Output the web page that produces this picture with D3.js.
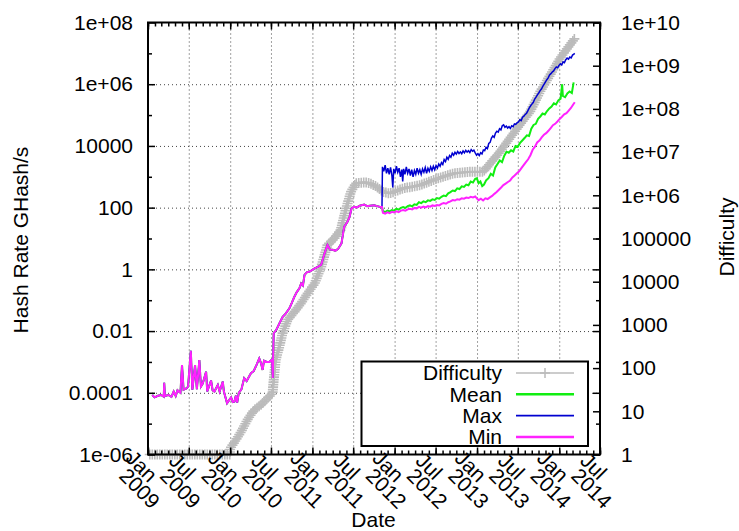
<!DOCTYPE html>
<html>
<head>
<meta charset="utf-8">
<script src="https://cdnjs.cloudflare.com/ajax/libs/d3/7.8.5/d3.min.js"></script>
<style>
body { margin: 0; background: #fff; }
text { font-family: "Liberation Sans", Arial, sans-serif; font-size: 21px; fill: #000; }
</style>
</head>
<body>
<div id="chart"></div>
<script>
// hash rate before Nov 2011 (mean, max and min lie on top of each other)
let earlyRate = [
  ["2009-01-20", 8.5e-5], ["2009-01-30", 7.1e-5], ["2009-02-14", 8.0e-5], ["2009-02-28", 8.5e-5],
  ["2009-03-12", 7.5e-5], ["2009-03-14", 2.1e-4], ["2009-03-17", 7.9e-5], ["2009-04-02", 8.5e-5],
  ["2009-04-15", 7.4e-5], ["2009-04-25", 1.1e-4], ["2009-05-04", 7.9e-5], ["2009-05-12", 1.2e-4],
  ["2009-05-25", 1.0e-4], ["2009-06-01", 7.9e-4], ["2009-06-08", 1.26e-4], ["2009-06-22", 1.4e-4],
  ["2009-06-28", 1.6e-4], ["2009-07-10", 2.3e-3], ["2009-07-17", 1.26e-4], ["2009-07-29", 7.9e-4],
  ["2009-08-06", 1.3e-4], ["2009-08-17", 1.15e-3], ["2009-08-24", 1.6e-4], ["2009-09-01", 2.0e-4],
  ["2009-09-16", 4.8e-4], ["2009-09-21", 1.1e-4], ["2009-10-08", 2.5e-4], ["2009-10-15", 1.2e-4],
  ["2009-10-23", 1.1e-4], ["2009-11-07", 1.8e-4], ["2009-11-15", 1.1e-4], ["2009-11-29", 2.3e-4],
  ["2009-12-04", 1.1e-4], ["2009-12-18", 4.6e-5], ["2010-01-05", 7.1e-5], ["2010-01-12", 5.0e-5],
  ["2010-01-20", 5.2e-5], ["2010-01-26", 8.0e-5], ["2010-02-01", 4.8e-5], ["2010-02-08", 1.0e-4],
  ["2010-02-20", 1.3e-4], ["2010-03-04", 3.0e-4], ["2010-03-15", 2.4e-4], ["2010-04-03", 4.3e-4],
  ["2010-04-15", 5.0e-4], ["2010-04-28", 8.0e-4], ["2010-05-10", 1.3e-3], ["2010-05-18", 9.0e-4],
  ["2010-05-25", 5.5e-4], ["2010-05-31", 1.1e-3], ["2010-06-12", 1.0e-3], ["2010-06-24", 1.0e-3],
  ["2010-07-06", 1.2e-3], ["2010-07-09", 3.0e-4], ["2010-07-13", 8.5e-3], ["2010-07-25", 1.1e-2],
  ["2010-08-08", 1.8e-2], ["2010-08-22", 2.9e-2], ["2010-09-02", 3.5e-2], ["2010-09-21", 5.5e-2],
  ["2010-10-01", 8.0e-2], ["2010-10-13", 0.13], ["2010-10-23", 0.18], ["2010-11-05", 0.25],
  ["2010-11-12", 0.35], ["2010-11-20", 0.30], ["2010-11-27", 0.66], ["2010-12-07", 0.8],
  ["2010-12-20", 0.85], ["2011-01-11", 1.07], ["2011-01-25", 1.2], ["2011-02-09", 1.4],
  ["2011-02-24", 3.3], ["2011-03-09", 6.2], ["2011-03-20", 4.4], ["2011-04-01", 4.3],
  ["2011-04-13", 4.0], ["2011-04-25", 4.6], ["2011-05-10", 6.9], ["2011-05-22", 24],
  ["2011-06-06", 35], ["2011-06-15", 50], ["2011-06-24", 95], ["2011-07-06", 107],
  ["2011-07-16", 100], ["2011-07-30", 115], ["2011-08-19", 126], ["2011-09-01", 112],
  ["2011-09-12", 115], ["2011-10-03", 120], ["2011-10-15", 112], ["2011-10-26", 107],
  ["2011-11-06", 105]
]

let meanRate = [
  ["2011-11-10", 78], ["2011-11-20", 72], ["2011-11-30", 80], ["2011-12-10", 76], ["2011-12-20", 84],
  ["2011-12-30", 80], ["2012-01-09", 92], ["2012-01-19", 86], ["2012-01-29", 98], ["2012-02-08", 104],
  ["2012-02-18", 98], ["2012-02-28", 112], ["2012-03-09", 118], ["2012-03-19", 110], ["2012-03-29", 128],
  ["2012-04-08", 122], ["2012-04-18", 150], ["2012-04-28", 140], ["2012-05-08", 160], ["2012-05-18", 150],
  ["2012-05-28", 172], ["2012-06-07", 165], ["2012-06-17", 185], ["2012-06-27", 178], ["2012-07-07", 205],
  ["2012-07-17", 195], ["2012-07-27", 225], ["2012-08-06", 245], ["2012-08-16", 235], ["2012-08-26", 290],
  ["2012-09-05", 320], ["2012-09-15", 360], ["2012-09-25", 345], ["2012-10-05", 420], ["2012-10-15", 400],
  ["2012-10-25", 490], ["2012-11-04", 470], ["2012-11-14", 560], ["2012-11-24", 530], ["2012-12-04", 700],
  ["2012-12-14", 650], ["2012-12-24", 860], ["2012-12-31", 900], ["2013-01-08", 620], ["2013-01-16", 700],
  ["2013-01-24", 500], ["2013-02-01", 560], ["2013-02-11", 780], ["2013-02-21", 900], ["2013-03-03", 1250],
  ["2013-03-13", 1100], ["2013-03-23", 2000], ["2013-04-02", 2600], ["2013-04-12", 3400], ["2013-04-22", 3000],
  ["2013-05-02", 4800], ["2013-05-12", 6500], ["2013-05-22", 6000], ["2013-06-01", 7200], ["2013-06-11", 6600],
  ["2013-06-21", 10000], ["2013-07-01", 9400], ["2013-07-11", 12500], ["2013-07-21", 15000], ["2013-07-31", 18000],
  ["2013-08-10", 22000], ["2013-08-20", 21000], ["2013-08-30", 36000], ["2013-09-09", 48000], ["2013-09-19", 52000],
  ["2013-09-29", 75000], ["2013-10-09", 90000], ["2013-10-19", 112000], ["2013-10-29", 105000], ["2013-11-08", 135000],
  ["2013-11-18", 165000], ["2013-11-28", 190000], ["2013-12-08", 240000], ["2013-12-18", 220000], ["2013-12-28", 300000],
  ["2014-01-07", 340000], ["2014-01-14", 1.0e6], ["2014-01-17", 420000], ["2014-01-27", 380000], ["2014-02-06", 500000],
  ["2014-02-16", 580000], ["2014-02-26", 520000], ["2014-03-06", 1.15e6]
]

let maxRate = [
  ["2011-11-08", 2100], ["2011-11-14", 1500], ["2011-11-20", 2400], ["2011-11-26", 1300], ["2011-12-02", 1900],
  ["2011-12-08", 1200], ["2011-12-14", 2000], ["2011-12-20", 1100], ["2011-12-24", 450], ["2011-12-28", 1800],
  ["2012-01-03", 1300], ["2012-01-09", 2200], ["2012-01-15", 1400], ["2012-01-21", 1900], ["2012-01-27", 1000],
  ["2012-02-02", 1700], ["2012-02-06", 700], ["2012-02-10", 1800], ["2012-02-16", 1200], ["2012-02-22", 2100],
  ["2012-02-28", 1300], ["2012-03-05", 1800], ["2012-03-11", 1100], ["2012-03-17", 1700], ["2012-03-23", 1000],
  ["2012-03-29", 1600], ["2012-04-04", 1200], ["2012-04-10", 1900], ["2012-04-16", 1300], ["2012-04-22", 1700],
  ["2012-04-28", 1200], ["2012-05-04", 1800], ["2012-05-10", 1400], ["2012-05-16", 2000], ["2012-05-22", 1300],
  ["2012-05-28", 1900], ["2012-06-03", 1500], ["2012-06-09", 2100], ["2012-06-15", 1600], ["2012-06-21", 2200],
  ["2012-06-27", 1700], ["2012-07-03", 2300], ["2012-07-09", 1900], ["2012-07-15", 2600], ["2012-07-21", 2200],
  ["2012-07-27", 2900], ["2012-08-02", 2500], ["2012-08-08", 3600], ["2012-08-14", 3100], ["2012-08-20", 4300],
  ["2012-08-26", 3700], ["2012-09-01", 4900], ["2012-09-07", 4300], ["2012-09-13", 5800], ["2012-09-19", 5000],
  ["2012-09-25", 6200], ["2012-10-01", 5400], ["2012-10-07", 6600], ["2012-10-13", 5700], ["2012-10-19", 6400],
  ["2012-10-25", 5600], ["2012-10-31", 6900], ["2012-11-06", 6000], ["2012-11-12", 7200], ["2012-11-18", 6300],
  ["2012-11-24", 7000], ["2012-11-30", 6100], ["2012-12-06", 7600], ["2012-12-12", 6700], ["2012-12-18", 7300],
  ["2012-12-24", 6000], ["2012-12-30", 5000], ["2013-01-05", 5600], ["2013-01-11", 4900], ["2013-01-17", 6000],
  ["2013-01-23", 5500], ["2013-01-29", 7400], ["2013-02-04", 7000], ["2013-02-10", 9000], ["2013-02-16", 8200],
  ["2013-02-22", 12000], ["2013-02-28", 13000], ["2013-03-06", 18000], ["2013-03-12", 21000], ["2013-03-18", 19000],
  ["2013-03-24", 26000], ["2013-03-30", 30000], ["2013-04-05", 28000], ["2013-04-11", 36000], ["2013-04-17", 33000],
  ["2013-04-23", 45000], ["2013-04-29", 48000], ["2013-05-05", 40000], ["2013-05-11", 44000], ["2013-05-17", 38000],
  ["2013-05-23", 42000], ["2013-05-29", 37000], ["2013-06-04", 45000], ["2013-06-10", 42000], ["2013-06-16", 52000],
  ["2013-06-22", 50000], ["2013-06-28", 56000], ["2013-07-04", 60000], ["2013-07-10", 70000], ["2013-07-16", 66000],
  ["2013-07-22", 85000], ["2013-07-28", 92000], ["2013-08-03", 105000], ["2013-08-09", 115000], ["2013-08-15", 140000],
  ["2013-08-21", 170000], ["2013-08-27", 200000], ["2013-09-02", 230000], ["2013-09-08", 260000], ["2013-09-14", 330000],
  ["2013-09-20", 380000], ["2013-09-26", 450000], ["2013-10-02", 520000], ["2013-10-08", 620000], ["2013-10-14", 700000],
  ["2013-10-20", 850000], ["2013-10-26", 1.0e6], ["2013-11-01", 1.2e6], ["2013-11-07", 1.4e6], ["2013-11-13", 1.6e6],
  ["2013-11-19", 2.0e6], ["2013-11-25", 2.2e6], ["2013-12-01", 2.5e6], ["2013-12-07", 2.7e6], ["2013-12-13", 3.2e6],
  ["2013-12-19", 3.6e6], ["2013-12-25", 3.4e6], ["2013-12-31", 4.1e6], ["2014-01-06", 4.6e6], ["2014-01-12", 4.2e6],
  ["2014-01-18", 5.3e6], ["2014-01-24", 5.0e6], ["2014-01-30", 6.2e6], ["2014-02-05", 7.0e6], ["2014-02-11", 6.5e6],
  ["2014-02-17", 7.6e6], ["2014-02-23", 7.1e6], ["2014-03-01", 8.8e6], ["2014-03-07", 9.5e6], ["2014-03-11", 1.0e7]
]

let minRate = [
  ["2011-11-10", 68], ["2011-11-20", 64], ["2011-11-30", 70], ["2011-12-10", 66], ["2011-12-20", 73],
  ["2011-12-30", 70], ["2012-01-09", 76], ["2012-01-19", 72], ["2012-01-29", 80], ["2012-02-08", 84],
  ["2012-02-18", 80], ["2012-02-28", 88], ["2012-03-09", 92], ["2012-03-19", 88], ["2012-03-29", 98],
  ["2012-04-08", 95], ["2012-04-18", 106], ["2012-04-28", 100], ["2012-05-08", 108], ["2012-05-18", 102],
  ["2012-05-28", 112], ["2012-06-07", 108], ["2012-06-17", 118], ["2012-06-27", 114], ["2012-07-07", 122],
  ["2012-07-17", 118], ["2012-07-27", 132], ["2012-08-06", 140], ["2012-08-16", 134], ["2012-08-26", 150],
  ["2012-09-05", 160], ["2012-09-15", 176], ["2012-09-25", 170], ["2012-10-05", 188], ["2012-10-15", 182],
  ["2012-10-25", 200], ["2012-11-04", 196], ["2012-11-14", 212], ["2012-11-24", 205], ["2012-12-04", 225],
  ["2012-12-14", 215], ["2012-12-24", 230], ["2012-12-31", 200], ["2013-01-08", 175], ["2013-01-18", 195],
  ["2013-01-28", 170], ["2013-02-07", 200], ["2013-02-17", 190], ["2013-02-27", 215], ["2013-03-09", 240],
  ["2013-03-19", 280], ["2013-03-29", 320], ["2013-04-08", 380], ["2013-04-18", 450], ["2013-04-28", 540],
  ["2013-05-08", 600], ["2013-05-18", 680], ["2013-05-28", 760], ["2013-06-07", 950], ["2013-06-17", 1100],
  ["2013-06-27", 1300], ["2013-07-07", 1500], ["2013-07-17", 1900], ["2013-07-27", 2400], ["2013-08-06", 3000],
  ["2013-08-16", 3700], ["2013-08-26", 5000], ["2013-09-05", 7500], ["2013-09-15", 9500], ["2013-09-25", 13000],
  ["2013-10-05", 15000], ["2013-10-15", 19000], ["2013-10-25", 23000], ["2013-11-04", 26000], ["2013-11-14", 31000],
  ["2013-11-24", 38000], ["2013-12-04", 47000], ["2013-12-14", 52000], ["2013-12-24", 62000], ["2014-01-03", 75000],
  ["2014-01-13", 88000], ["2014-01-23", 105000], ["2014-02-02", 115000], ["2014-02-12", 140000], ["2014-02-22", 170000],
  ["2014-03-04", 220000], ["2014-03-11", 260000]
]

let difficulty = [
  ["2009-01-09", 1], ["2009-12-30", 1], ["2010-01-01", 1.38], ["2010-01-16", 1.8],
  ["2010-02-19", 3.4], ["2010-03-18", 6.3], ["2010-04-17", 10.7], ["2010-05-16", 13.8],
  ["2010-06-15", 20], ["2010-07-08", 26], ["2010-07-13", 52], ["2010-07-22", 155],
  ["2010-08-07", 310], ["2010-08-21", 630], ["2010-09-13", 1300], ["2010-10-13", 2000],
  ["2010-11-12", 3200], ["2010-12-11", 5400], ["2011-01-11", 9100], ["2011-02-09", 22000],
  ["2011-03-09", 71000], ["2011-04-08", 100000], ["2011-05-07", 160000], ["2011-05-29", 460000],
  ["2011-06-21", 1.2e6], ["2011-07-13", 1.9e6], ["2011-08-20", 2.0e6], ["2011-09-13", 1.9e6],
  ["2011-10-12", 1.6e6], ["2011-11-11", 1.2e6], ["2011-12-10", 1.1e6], ["2012-02-08", 1.45e6],
  ["2012-04-21", 1.7e6], ["2012-07-05", 2.4e6], ["2012-09-17", 3.2e6], ["2012-12-01", 3.5e6],
  ["2013-01-29", 3.5e6], ["2013-02-28", 5.5e6], ["2013-04-12", 1.0e7], ["2013-05-27", 2.1e7],
  ["2013-07-10", 4.3e7], ["2013-08-24", 8.5e7], ["2013-10-08", 2.5e8], ["2013-11-21", 6.0e8],
  ["2014-01-05", 1.5e9], ["2014-02-11", 2.75e9], ["2014-03-11", 4.3e9]
]

let xTickDates = ["2009-01-01", "2009-07-01", "2010-01-01", "2010-07-01", "2011-01-01", "2011-07-01",
  "2012-01-01", "2012-07-01", "2013-01-01", "2013-07-01", "2014-01-01", "2014-07-01"]
let xTickLabels = [["Jan", "2009"], ["Jul", "2009"], ["Jan", "2010"], ["Jul", "2010"], ["Jan", "2011"],
  ["Jul", "2011"], ["Jan", "2012"], ["Jul", "2012"], ["Jan", "2013"], ["Jul", "2013"], ["Jan", "2014"], ["Jul", "2014"]]
let leftTicks = [1e-6, 1e-4, 1e-2, 1, 100, 1e4, 1e6, 1e8]
let leftTickLabels = ["1e-06", "0.0001", "0.01", "1", "100", "10000", "1e+06", "1e+08"]
let leftMinor = [1e-5, 1e-3, 0.1, 10, 1000, 1e5, 1e7]
let rightTicks = [1, 10, 100, 1000, 1e4, 1e5, 1e6, 1e7, 1e8, 1e9, 1e10]
let rightTickLabels = ["1", "10", "100", "1000", "10000", "100000", "1e+06", "1e+07", "1e+08", "1e+09", "1e+10"]
let legendNames = ["Difficulty", "Mean", "Max", "Min"]

let width = 739
let height = 531
let plotLeft = 148, plotRight = 600, plotTop = 22.5, plotBottom = 454.5

let parse = d3.timeParse("%Y-%m-%d")

let svg = d3.select("#chart").append("svg")
  .attr("width", width).attr("height", height)

let xScale = d3.scaleTime().domain([parse("2009-01-01"), parse("2014-07-01")]).range([plotLeft, plotRight])
let yScale = d3.scaleLog().domain([1e-6, 1e8]).range([plotBottom, plotTop])
let y2Scale = d3.scaleLog().domain([1, 1e10]).range([plotBottom, plotTop])

let xTicks = xTickDates.map(parse)

// grid
svg.append("g").attr("class", "grid")
  .attr("transform", `translate(0, ${plotBottom})`)
  .call(d3.axisBottom(xScale).tickValues(xTicks.slice(1, -1)).tickSize(-(plotBottom - plotTop)).tickFormat(""))
svg.append("g").attr("class", "grid")
  .attr("transform", `translate(${plotLeft}, 0)`)
  .call(d3.axisLeft(yScale).tickValues(leftTicks.slice(1, -1)).tickSize(-(plotRight - plotLeft)).tickFormat(""))
svg.selectAll(".grid .domain").remove()
svg.selectAll(".grid line").attr("stroke", "#444").attr("stroke-dasharray", "1,3").attr("stroke-width", 1)

// series
let lineRate = d3.line().x(d => xScale(parse(d[0]))).y(d => yScale(d[1]))
let lineDiff = d3.line().x(d => xScale(parse(d[0]))).y(d => y2Scale(d[1]))

let diffPath = svg.append("path").datum(difficulty)
  .attr("d", lineDiff).attr("fill", "none").attr("stroke", "#bbbbbb").attr("stroke-width", 2)

// gnuplot draws a "+" at every difficulty sample; they merge into a thick band
let plusShape = "M-5,0H5M0,-5V5"
let diffNode = diffPath.node()
let total = diffNode.getTotalLength()
let marks = svg.append("g")
for (let s = 0; s <= total; s += 2.5) {
  let p = diffNode.getPointAtLength(s)
  marks.append("path").attr("d", plusShape).attr("transform", `translate(${p.x},${p.y})`)
    .attr("stroke", "#bbbbbb").attr("stroke-width", 1.6).attr("fill", "none")
}

let seriesList = [
  { data: earlyRate.concat(meanRate), color: "#11ee11", w: 2 },
  { data: earlyRate.concat(maxRate), color: "#0000d0", w: 1.5 },
  { data: earlyRate.concat(minRate), color: "#ff22ff", w: 2 }
]
seriesList.forEach(s => {
  svg.append("path").datum(s.data).attr("d", lineRate)
    .attr("fill", "none").attr("stroke", s.color).attr("stroke-width", s.w)
    .attr("stroke-linejoin", "miter")
})

// axes
let bottomAxis = svg.append("g").attr("transform", `translate(0, ${plotBottom})`)
  .call(d3.axisBottom(xScale).tickValues(xTicks).tickSizeInner(-7).tickSizeOuter(0).tickFormat(""))
svg.append("g").attr("transform", `translate(0, ${plotBottom})`)
  .call(d3.axisBottom(xScale).ticks(d3.timeMonth.every(1)).tickSize(-4).tickFormat(""))
svg.append("g").attr("transform", `translate(0, ${plotTop})`)
  .call(d3.axisTop(xScale).tickValues(xTicks).tickSizeInner(-7).tickSizeOuter(0).tickFormat(""))
svg.append("g").attr("transform", `translate(0, ${plotTop})`)
  .call(d3.axisTop(xScale).ticks(d3.timeMonth.every(1)).tickSize(-4).tickFormat(""))

// two-line labels turned 45 degrees, year line below the month line
bottomAxis.selectAll(".tick").each(function (d, i) {
  let g = d3.select(this)
  g.append("text").attr("transform", "translate(-12, 17) rotate(45)").attr("font-size", 19).text(xTickLabels[i][0])
  g.append("text").attr("transform", "translate(-14, 39) rotate(45)").attr("font-size", 19).text(xTickLabels[i][1])
})

svg.append("g").attr("class", "yl").attr("transform", `translate(${plotLeft}, 0)`)
  .call(d3.axisLeft(yScale).tickValues(leftTicks).tickSizeInner(-7).tickSizeOuter(0).tickPadding(15)
    .tickFormat((d, i) => leftTickLabels[i]))
svg.append("g").attr("transform", `translate(${plotLeft}, 0)`)
  .call(d3.axisLeft(yScale).tickValues(leftMinor).tickSize(-4).tickFormat(""))
svg.append("g").attr("transform", `translate(${plotRight}, 0)`)
  .call(d3.axisRight(yScale).tickValues(leftTicks).tickSize(-7).tickFormat(""))
svg.append("g").attr("transform", `translate(${plotRight}, 0)`)
  .call(d3.axisRight(yScale).tickValues(leftMinor).tickSize(-4).tickFormat(""))
svg.append("g").attr("class", "yr").attr("transform", `translate(${plotRight}, 0)`)
  .call(d3.axisRight(y2Scale).tickValues(rightTicks).tickSizeInner(-7).tickSizeOuter(0).tickPadding(21)
    .tickFormat((d, i) => rightTickLabels[i]))

svg.selectAll(".domain").remove()
svg.selectAll("g:not(.grid) > .tick line").attr("stroke", "#000").attr("stroke-width", 1.5)
svg.selectAll(".yl .tick text, .yr .tick text").attr("font-family", "Liberation Sans, Arial, sans-serif")
  .attr("font-size", 21).attr("fill", "#000")

svg.append("rect").attr("x", plotLeft).attr("y", plotTop).attr("width", plotRight - plotLeft).attr("height", plotBottom - plotTop)
  .attr("fill", "none").attr("stroke", "#000").attr("stroke-width", 2)

// legend
let legend = svg.append("g")
legend.append("rect").attr("x", 361.5).attr("y", 361.5).attr("width", 226.5).attr("height", 84.5)
  .attr("fill", "#fff").attr("stroke", "#000").attr("stroke-width", 2)
let legendColors = ["#bbbbbb", "#11ee11", "#0000d0", "#ff22ff"]
let legendWidths = [1.5, 2.5, 1.6, 2.5]
legendNames.forEach((name, i) => {
  let yy = 373 + i * 21.3
  legend.append("text").attr("x", 502).attr("y", yy).attr("dy", "0.35em")
    .attr("text-anchor", "end").text(name)
  legend.append("line").attr("x1", 516).attr("x2", 574).attr("y1", yy).attr("y2", yy)
    .attr("stroke", legendColors[i]).attr("stroke-width", legendWidths[i])
  if (i === 0) {
    legend.append("path").attr("d", plusShape).attr("transform", `translate(545, ${yy})`)
      .attr("stroke", "#bbbbbb").attr("stroke-width", 1.5)
  }
})

// axis titles
svg.append("text").attr("transform", "translate(28, 240) rotate(-90)")
  .attr("text-anchor", "middle").text("Hash Rate GHash/s")
svg.append("text").attr("transform", "translate(734, 237) rotate(-90)")
  .attr("text-anchor", "middle").text("Difficulty")
svg.append("text").attr("x", 373.5).attr("y", 527)
  .attr("text-anchor", "middle").text("Date")
</script>
</body>
</html>
